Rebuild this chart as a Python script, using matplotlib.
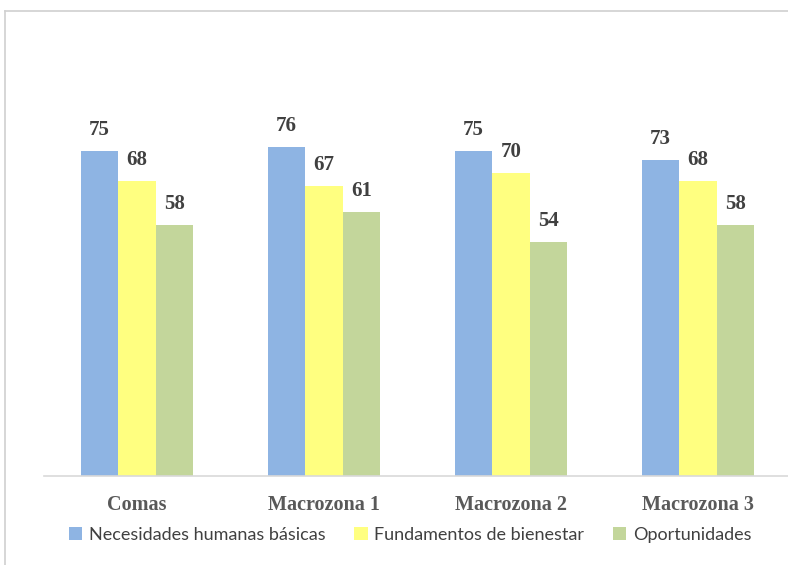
import matplotlib.pyplot as plt
import numpy as np
from matplotlib.lines import Line2D

categories = ["Comas", "Macrozona 1", "Macrozona 2", "Macrozona 3"]
series_names = ["Necesidades humanas básicas", "Fundamentos de bienestar", "Oportunidades"]
necesidades = [75, 76, 75, 73]
fundamentos = [68, 67, 70, 68]
oportunidades = [58, 61, 54, 58]

colors = ["#8EB4E3", "#FFFF80", "#C3D69B"]
label_color = "#404040"

fig = plt.figure(figsize=(7.88, 5.65), dpi=100)
# chart frame: only the top and left edges fall inside the image
top_y = 1 - 11 / 565
left_x = 5 / 788
fig.lines.append(Line2D([left_x, 1], [top_y, top_y], transform=fig.transFigure,
                        color="#D0D0D0", linewidth=1.2))
fig.lines.append(Line2D([left_x, left_x], [0, top_y], transform=fig.transFigure,
                        color="#D0D0D0", linewidth=1.2))

ax = fig.add_axes([43.5 / 788, 89 / 565, 748 / 788, 390 / 565])
x = np.arange(len(categories))
width = 0.2
for i, (vals, name) in enumerate(zip([necesidades, fundamentos, oportunidades], series_names)):
    pos = x + (i - 1) * width
    bars = ax.bar(pos, vals, width, color=colors[i], label=name, linewidth=0)
    for b, v in zip(bars, vals):
        ax.annotate(str(v), (b.get_x() + b.get_width() / 2, v), xytext=(0, 8),
                    textcoords="offset points", ha="center", va="bottom",
                    fontsize=15, fontweight="bold", family="Liberation Serif",
                    color=label_color)

ax.set_xlim(-0.5, len(categories) - 0.5)
ax.set_ylim(0, 90)
ax.set_yticks([])
ax.set_xticks(x)
ax.set_xticklabels(categories, fontsize=14.5, fontweight="bold", family="Liberation Serif",
                   color="#595959")
ax.tick_params(axis="x", length=0, pad=14)
for side in ["top", "right", "left"]:
    ax.spines[side].set_visible(False)
ax.spines["bottom"].set_color("#D9D9D9")
ax.spines["bottom"].set_linewidth(1.2)

leg = fig.legend(loc="center", bbox_to_anchor=(410 / 788, 1 - 535 / 565), ncol=3,
                 frameon=False, handlelength=0.75, handleheight=0.75, handletextpad=0.35,
                 columnspacing=1.6, prop={"family": "Lato", "size": 13})
for t in leg.get_texts():
    t.set_color("#404040")

fig.savefig("out.png", dpi=100)
